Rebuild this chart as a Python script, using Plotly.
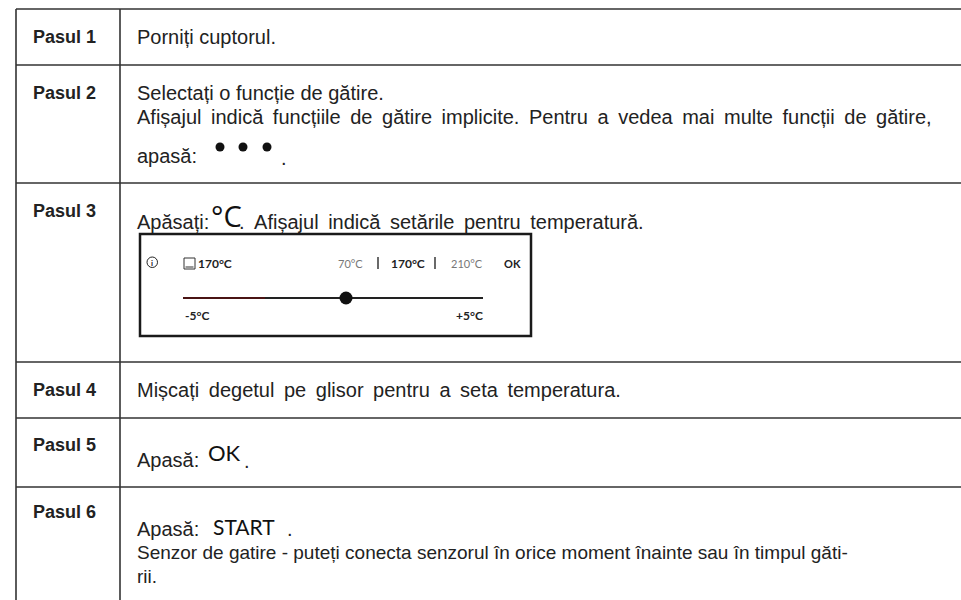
import plotly.graph_objects as go

# ---- content ----
step_labels = ["Pasul 1", "Pasul 2", "Pasul 3", "Pasul 4", "Pasul 5", "Pasul 6"]
step1_text = ["Porniți cuptorul."]
step2_text = ["Selectați o funcție de gătire.",
              "Afișajul indică funcțiile de gătire implicite. Pentru a vedea mai multe funcții de gătire,",
              "apasă:"]
step3_prefix = "Apăsați:"
step3_symbol = "°C"
step3_suffix = ". Afișajul indică setările pentru temperatură."
step4_text = ["Mișcați degetul pe glisor pentru a seta temperatura."]
step5_prefix = "Apasă:"
step5_symbol = "OK"
step6_prefix = "Apasă:"
step6_symbol = "START"
step6_text = ["Senzor de gatire - puteți conecta senzorul în orice moment înainte sau în timpul găti-",
              "rii."]
display_current = "170°C"
display_temps = ["70°C", "170°C", "210°C"]
display_ok = "OK"
display_offsets = ["-5°C", "+5°C"]

# ---- layout constants (pixels) ----
W, H = 961, 600
row_edges = [9, 65, 183, 362, 418, 487, 600]
label_y = [37, 93, 211, 390, 445, 512]
x_left, x_col, x_text = 16, 120, 136
INK = "#222222"
LINE = "#333333"
FONT = "Liberation Sans, Arial, sans-serif"
DFONT = "Lato, Inter, sans-serif"
FS = 20
FS_LABEL = 18

fig = go.Figure()
fig.add_trace(go.Scatter(x=[0, W], y=[0, H], mode="markers",
                         marker=dict(opacity=0), hoverinfo="skip", showlegend=False))

shapes = []
annotations = []


def line(x0, y0, x1, y1, color=LINE, width=1.6):
    shapes.append(dict(type="line", xref="x", yref="y", x0=x0, y0=y0, x1=x1, y1=y1,
                       line=dict(color=color, width=width)))


def text(x, y, s, size=FS, color=INK, bold=False, font=FONT, anchor="left"):
    annotations.append(dict(x=x, y=y, xref="x", yref="y", text=(f"<b>{s}</b>" if bold else s),
                            showarrow=False, xanchor=anchor, yanchor="middle",
                            font=dict(family=font, size=size, color=color), borderpad=0))


def justify(s, extra="\u2009"):
    return s.replace(" ", " " + extra)


# table grid
for ye in row_edges[:-1]:
    line(x_left, ye, W + 2, ye)
line(x_left, row_edges[0], x_left, H + 2)
line(x_col, row_edges[0], x_col, H + 2)

# labels
for lab, ly in zip(step_labels, label_y):
    text(32, ly, lab, size=FS_LABEL, bold=True)

# step 1
text(x_text, 37, step1_text[0])
# step 2
text(x_text, 93, step2_text[0])
text(x_text, 117, justify(step2_text[1]))
text(x_text, 156, step2_text[2])
for cx in [220, 243, 267]:
    shapes.append(dict(type="circle", xref="x", yref="y", x0=cx - 4.5, x1=cx + 4.5, y0=147 - 4.5,
                       y1=147 + 4.5, fillcolor="#111111", line=dict(width=0)))
text(280, 158, ".")
# step 3
text(x_text, 222, step3_prefix)
text(210, 215, step3_symbol, size=29, font="Open Sans, sans-serif", color="#111111")
text(238, 222, justify(step3_suffix))

# display box
shapes.append(dict(type="rect", xref="x", yref="y", x0=140, x1=531, y0=234, y1=336,
                   line=dict(color="#1a1a1a", width=2.5)))
# info icon
shapes.append(dict(type="circle", xref="x", yref="y", x0=147, x1=157.5, y0=257, y1=267.5,
                   line=dict(color="#222", width=1)))
text(152.3, 262.5, "i", size=8, bold=True, font=DFONT, anchor="center")
# oven icon
shapes.append(dict(type="rect", xref="x", yref="y", x0=184, x1=195, y0=258, y1=269,
                   line=dict(color="#333", width=1)))
line(185.5, 267, 193.5, 267, color="#333", width=1)
text(197, 263, display_current, size=12, bold=True, font=DFONT)
# temperature choices
text(337, 263, display_temps[0], size=11, color="#777", font=DFONT)
line(378, 257, 378, 269, color="#444", width=1.6)
text(390, 263, display_temps[1], size=12, bold=True, font=DFONT)
line(435, 257, 435, 269, color="#444", width=1.6)
text(450, 263, display_temps[2], size=11, color="#777", font=DFONT)
text(503, 263, display_ok, size=11, bold=True, font=DFONT)
# slider
line(183, 298, 265, 298, color="#4a1414", width=2)
line(265, 298, 483, 298, color="#222", width=2)
shapes.append(dict(type="circle", xref="x", yref="y", x0=339.5, x1=352.5, y0=291.5, y1=304.5,
                   fillcolor="#111", line=dict(width=0)))
text(184, 315, display_offsets[0], size=12, bold=True, font=DFONT)
text(484, 315, display_offsets[1], size=12, bold=True, font=DFONT, anchor="right")

# step 4
text(x_text, 390, justify(step4_text[0]))
# step 5
text(x_text, 460, step5_prefix)
text(207, 452, step5_symbol, size=22, font=DFONT, color="#111")
text(243, 461, ".")
# step 6
text(x_text, 529, step6_prefix)
text(212, 526, step6_symbol, size=21, font=DFONT, color="#111")
text(286, 529, ".")
text(x_text, 552, step6_text[0], size=19)
text(x_text, 576, step6_text[1], size=19)

fig.update_layout(
    width=W, height=H, margin=dict(l=0, r=0, t=0, b=0),
    paper_bgcolor="white", plot_bgcolor="white",
    xaxis=dict(range=[0, W], visible=False, fixedrange=True),
    yaxis=dict(range=[H, 0], visible=False, fixedrange=True),
    shapes=shapes, annotations=annotations, showlegend=False,
)
fig.write_html("out.html", config={"displayModeBar": False},
               post_script="document.body.style.margin='0';document.body.style.overflow='hidden';")
